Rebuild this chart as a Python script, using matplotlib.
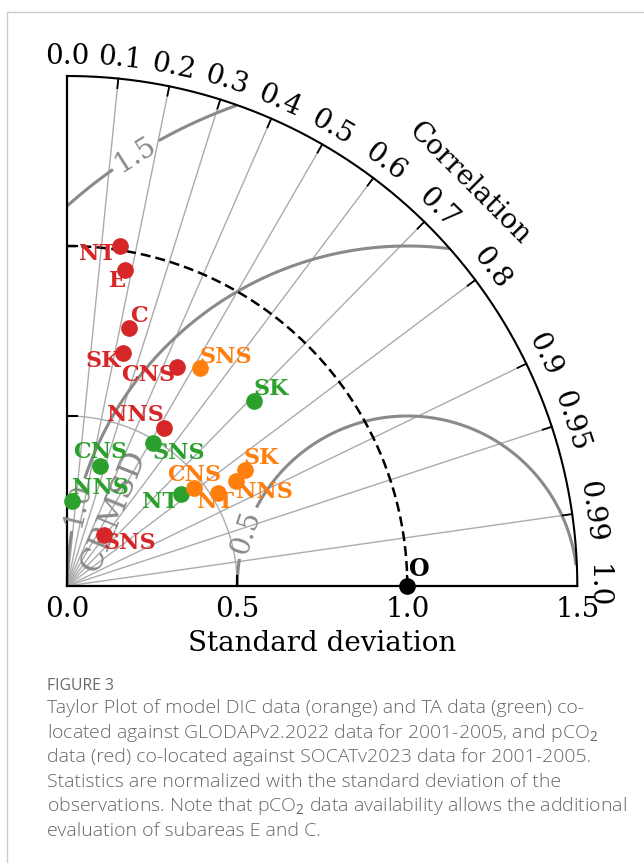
import numpy as np
import matplotlib
matplotlib.use("Agg")
import matplotlib.pyplot as plt

plt.rcParams["mathtext.fontset"] = "custom"
plt.rcParams["mathtext.rm"] = "Open Sans"

# normalized std and correlation
pco2_names = ["NT", "E", "C", "SK", "CNS", "NNS", "SNS"]
pco2_std = [1.013, 0.945, 0.780, 0.706, 0.719, 0.544, 0.185]
pco2_cor = [0.153, 0.181, 0.233, 0.232, 0.447, 0.522, 0.588]

ta_names = ["SK", "SNS", "CNS", "NNS", "NT"]
ta_std = [0.772, 0.489, 0.365, 0.250, 0.432]
ta_cor = [0.710, 0.513, 0.263, 0.052, 0.777]

dic_names = ["SNS", "SK", "NNS", "NT", "CNS"]
dic_std = [0.752, 0.624, 0.583, 0.521, 0.470]
dic_cor = [0.520, 0.838, 0.849, 0.850, 0.792]

cor_ticks = [0.0, 0.1, 0.2, 0.3, 0.4, 0.5, 0.6, 0.7, 0.8, 0.9, 0.95, 0.99, 1.0]
std_ticks = [0.0, 0.5, 1.0, 1.5]
rmsd_levels = [0.5, 1.0, 1.5]

# label offsets in pixels (right, down)
pco2_off = [(-22, 8), (-8, 11), (10, -12), (-20, 8), (-28, 8), (-28, -13), (26, 8)]
ta_off = [(18, -12), (26, 10), (0, -14), (29, -13), (-21, 8)]
dic_off = [(26, -11), (16, -12), (29, 11), (-2, 9), (0, -13)]

C = {"pco2": "#d62728", "ta": "#2ca02c", "dic": "#ff7f0e",
     "grid": "#ababab", "rmsd": "#8a8a8a", "cap": "#666666"}
SMAX = 1.5
W, H = 644, 863
OX, OY, S = 67.3, 586.0, 340.0   # origin pixel, px per unit
TOP = 660                         # bottom pixel of chart area
FS = 20


def xy(std, cor):
    std, cor = np.asarray(std), np.asarray(cor)
    return std * cor, std * np.sin(np.arccos(cor))


fig = plt.figure(figsize=(W / 100, H / 100), dpi=100)
ax = fig.add_axes([0, 1 - TOP / H, 1, TOP / H])
ax.set_xlim(-OX / S, (W - OX) / S)
ax.set_ylim(-(TOP - OY) / S, OY / S)
ax.axis("off")

# frame of the page
fig.add_artist(plt.Line2D([7 / W, 7 / W], [0, 1 - 12 / H], color="#cccccc", lw=1,
                          transform=fig.transFigure))
fig.add_artist(plt.Line2D([7 / W, 1], [1 - 12 / H, 1 - 12 / H], color="#cccccc", lw=1,
                          transform=fig.transFigure))

serif = "DejaVu Serif"
th = np.linspace(0, np.pi / 2, 300)

# radial correlation lines + outer ticks
for c in cor_ticks:
    t = np.arccos(c)
    if 0 < c < 1:
        ax.plot([0, SMAX * np.cos(t)], [0, SMAX * np.sin(t)], color=C["grid"], lw=1.0, zorder=1)
        ax.plot([SMAX * np.cos(t), (SMAX - 0.028) * np.cos(t)],
                [SMAX * np.sin(t), (SMAX - 0.028) * np.sin(t)], color="k", lw=1.3, zorder=3)
    lab = f"{c:.2f}" if c in (0.95, 0.99) else f"{c:.1f}"
    ax.text(1.558 * np.cos(t), 1.558 * np.sin(t), lab, rotation=np.degrees(t) - 90,
            rotation_mode="anchor", ha="center", va="center", fontsize=FS, family=serif)

ax.text(1.675 * np.cos(np.pi / 4), 1.675 * np.sin(np.pi / 4), "Correlation", rotation=-45,
        rotation_mode="anchor", ha="center", va="center", fontsize=FS, family=serif)

# std arcs
ax.plot(0.5 * np.cos(th), 0.5 * np.sin(th), color=C["grid"], lw=1.0, zorder=1)
ax.plot(1.0 * np.cos(th), 1.0 * np.sin(th), color="k", lw=1.8, ls=(0, (4, 2)), zorder=3)
ax.plot(SMAX * np.cos(th), SMAX * np.sin(th), color="k", lw=1.5, zorder=3)
ax.plot([0, 0], [0, SMAX], color="k", lw=1.6, zorder=3)
ax.plot([0, SMAX], [0, 0], color="k", lw=1.6, zorder=3)
for s in std_ticks[1:-1]:
    ax.plot([s, s], [0, 0.028], color="k", lw=1.5, zorder=3)
    ax.plot([0, 0.028], [s, s], color="k", lw=1.5, zorder=3)
for s in std_ticks:
    ax.text(s, -0.068, f"{s:.1f}", ha="center", va="center", fontsize=FS, family=serif)
ax.text(0.75, -0.17, "Standard deviation", ha="center", va="center", fontsize=FS, family=serif)

# centred RMS difference contours
gx, gy = np.meshgrid(np.linspace(0, SMAX, 400), np.linspace(0, SMAX, 400))
rms = np.hypot(gx - 1.0, gy)
rms[np.hypot(gx, gy) > SMAX] = np.nan
cs = ax.contour(gx, gy, rms, levels=rmsd_levels, colors=C["rmsd"], linewidths=2.2, zorder=2)
lbls = ax.clabel(cs, fmt="%.1f", inline=True, fontsize=FS,
                 manual=[(0.52, 0.159), (0.015, 0.243), (0.2, 1.27)])
for t in lbls:
    t.set_family(serif)
ax.text(0.136, 0.22, "CRMSD", rotation=68, ha="center", va="center", fontsize=23,
        family=serif, color=C["rmsd"], zorder=2)

# data points
groups = [(pco2_names, pco2_std, pco2_cor, pco2_off, C["pco2"]),
          (ta_names, ta_std, ta_cor, ta_off, C["ta"]),
          (dic_names, dic_std, dic_cor, dic_off, C["dic"])]
for names, sd, cr, off, col in groups:
    px, py = xy(sd, cr)
    ax.plot(px, py, "o", ls="none", color=col, ms=11, zorder=6)
    for n, x, y, (dx, dy) in zip(names, px, py, off):
        ax.annotate(n, (x, y), xytext=(dx * 0.72, -dy * 0.72), textcoords="offset points",
                    ha="center", va="center", fontsize=16, fontweight="bold",
                    family=serif, color=col, zorder=5)

ax.plot([1.0], [0.0], "o", color="k", ms=11, zorder=7, clip_on=False)
ax.annotate("O", (1.0, 0.0), xytext=(12 * 0.72, 17 * 0.72), textcoords="offset points",
            ha="center", va="center", fontsize=17, fontweight="bold", family=serif, zorder=7)

# caption
fig.text(47 / W, 1 - 686 / H, "FIGURE 3", fontsize=11.3, color="#6a6a6a",
         family="Open Sans", va="center")
caption = [
    "Taylor Plot of model DIC data (orange) and TA data (green) co-",
    r"located against GLODAPv2.2022 data for 2001-2005, and pCO$_{\mathrm{2}}$",
    "data (red) co-located against SOCATv2023 data for 2001-2005.",
    "Statistics are normalized with the standard deviation of the",
    r"observations. Note that pCO$_{\mathrm{2}}$ data availability allows the additional",
    "evaluation of subareas E and C.",
]
for i, line in enumerate(caption):
    fig.text(47 / W, 1 - (708 + 24.5 * i) / H, line, fontsize=14, color=C["cap"],
             family="Open Sans", fontweight="light", va="center")

fig.savefig("out.png", dpi=100)
